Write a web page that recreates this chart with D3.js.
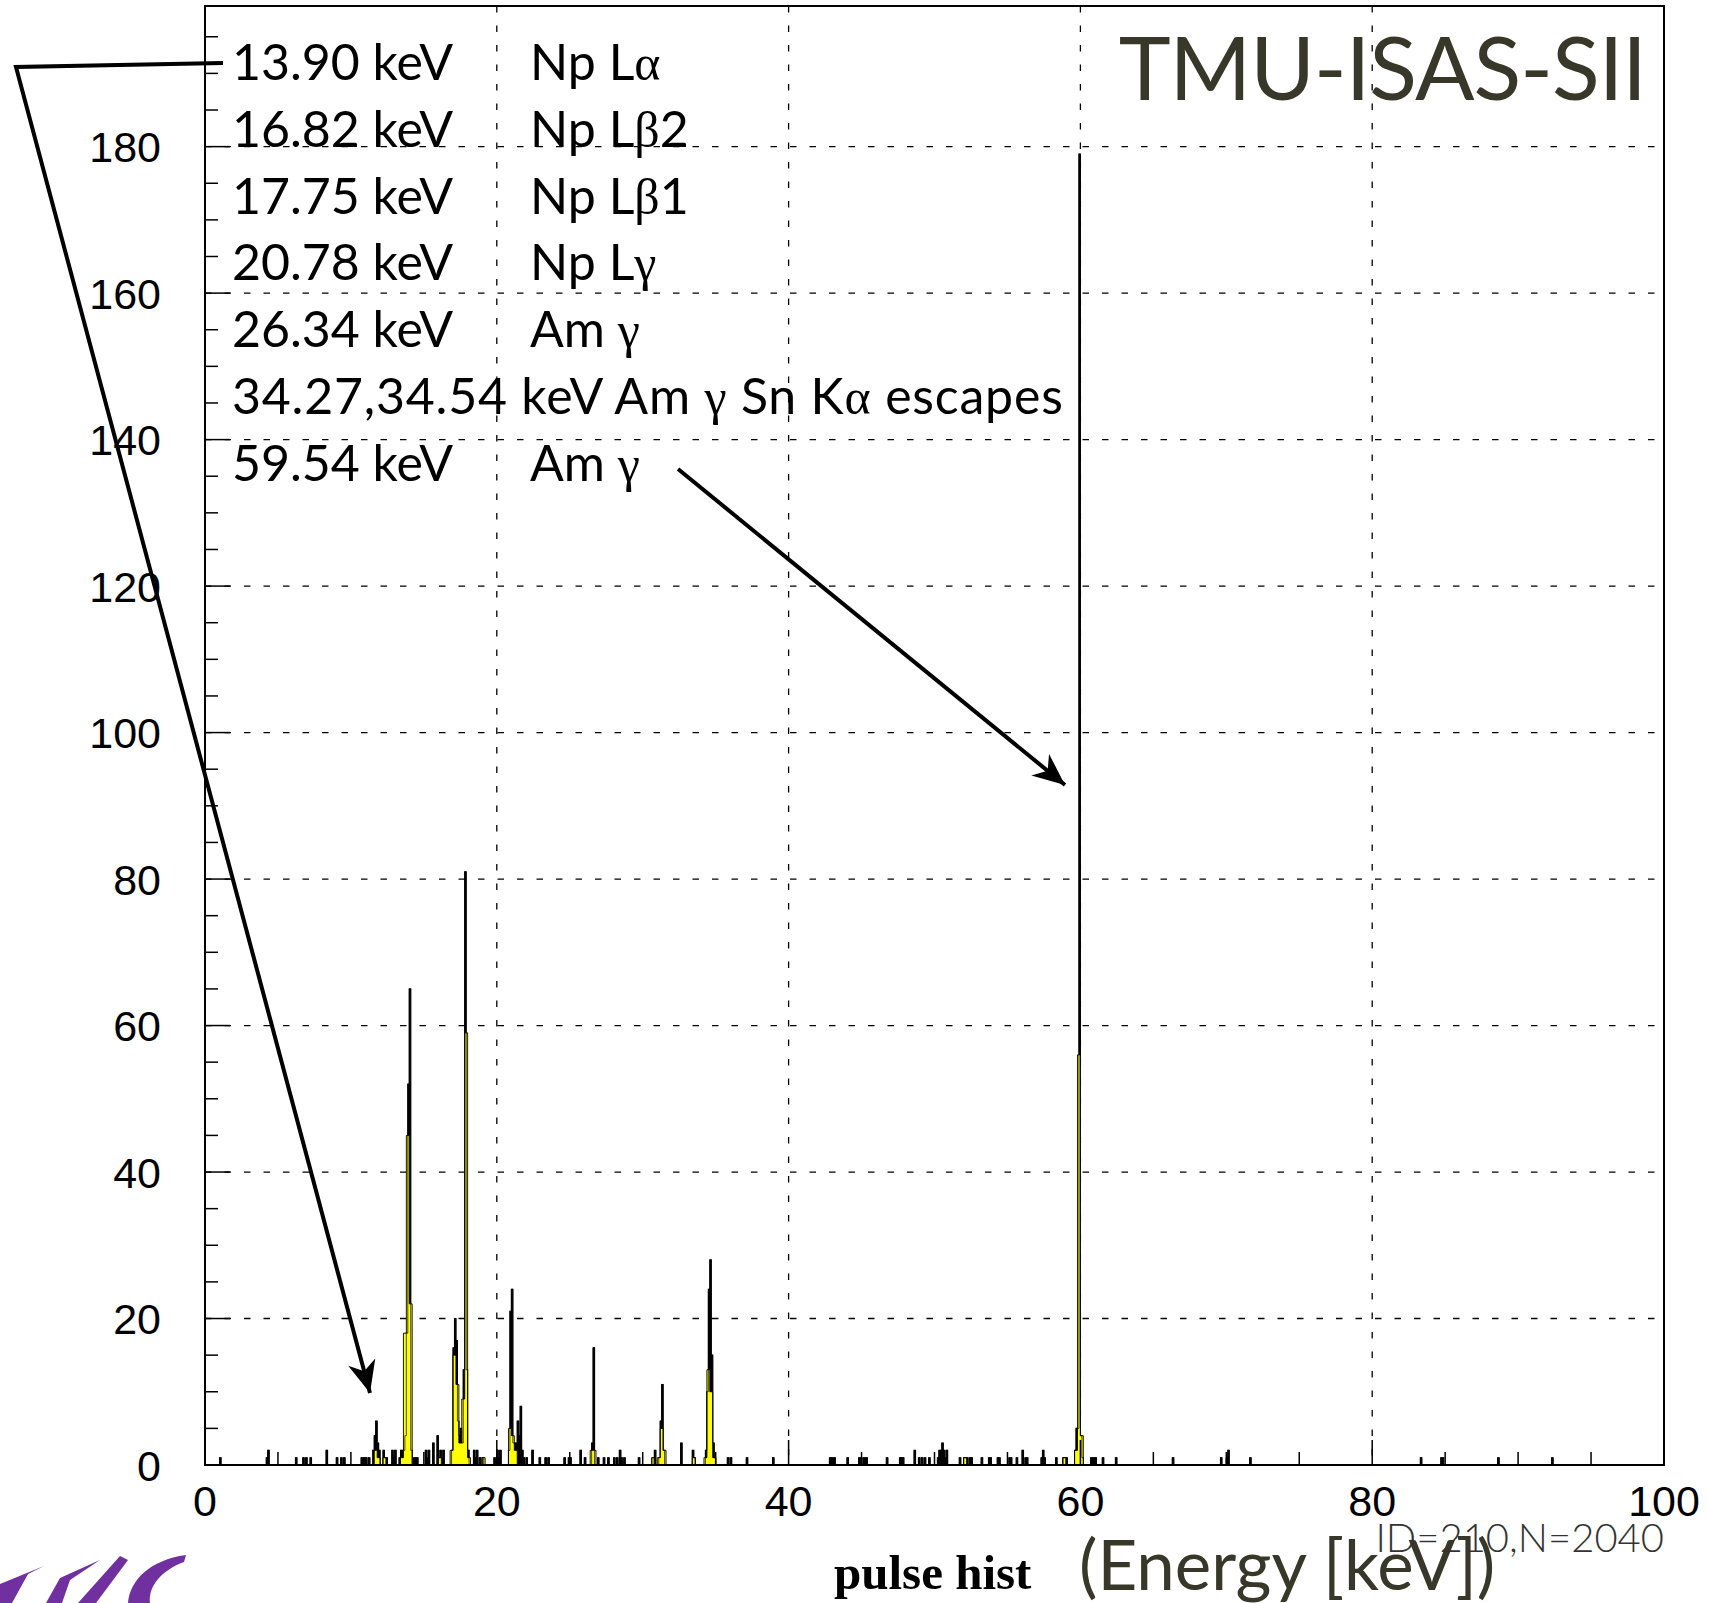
<!DOCTYPE html>
<html><head><meta charset="utf-8">
<script src="https://cdn.jsdelivr.net/npm/d3@7"></script>
<style>body{margin:0;background:#fff}svg{display:block}</style>
</head><body>
<script>
// ---------------- data ----------------
const blackBinWidth = 0.1;  // keV
const yellowBinWidth = 0.2; // keV
const blackBinLow = [1.0,4.2,4.3,6.2,6.7,6.9,7.2,8.3,9.0,9.3,9.5,10.7,10.8,10.9,11.0,11.2,11.5,11.6,11.7,11.8,11.9,12.2,12.3,12.4,12.8,12.9,13.0,13.3,13.4,13.5,13.6,13.7,13.8,13.9,14.0,14.1,14.3,14.4,14.5,15.1,15.2,15.3,15.6,15.9,16.0,16.1,16.2,16.3,16.9,17.0,17.1,17.2,17.3,17.4,17.5,17.6,17.7,17.8,17.9,18.0,18.4,18.5,18.6,18.8,19.0,19.8,20.0,20.1,20.2,20.8,20.9,21.0,21.1,21.2,21.3,21.4,21.5,21.6,21.7,21.8,22.0,22.4,22.9,23.3,23.5,24.6,24.9,25.0,25.7,26.0,26.5,26.6,26.9,27.3,27.6,28.0,28.2,28.4,28.5,28.7,29.7,30.7,30.8,31.1,31.2,31.3,31.4,32.6,33.4,33.5,34.3,34.4,34.5,34.6,34.7,34.8,34.9,35.8,36.0,37.1,38.9,42.8,42.9,43.0,43.1,44.0,44.8,44.9,45.1,45.2,45.3,46.7,47.6,47.7,47.8,48.6,48.9,49.1,49.3,49.6,50.2,50.3,50.4,50.5,50.6,50.7,50.8,51.7,52.0,52.1,52.2,52.4,52.5,53.2,53.7,53.8,54.3,54.4,55.1,55.2,55.6,56.0,56.2,56.3,57.3,57.4,57.5,58.3,58.8,58.9,59.0,59.6,59.7,59.8,59.9,60.0,60.1,60.7,60.8,60.9,61.0,61.5,62.4,66.3,69.6,70.0,70.1,71.6,83.3,84.7,84.8,88.6,92.3];
const blackCounts = [1,1,2,1,1,1,1,2,1,1,1,1,1,1,1,1,2,4,6,3,2,2,1,1,2,1,2,1,2,2,2,4,18,52,65,2,1,1,1,2,1,2,3,4,1,2,1,2,2,16,20,17,6,4,5,3,13,81,13,2,2,1,2,1,1,1,2,1,2,2,21,24,3,3,3,6,4,8,2,1,1,2,1,1,1,1,1,1,2,1,3,16,1,1,1,1,1,2,1,1,1,1,2,1,6,11,2,3,2,1,2,10,24,28,15,3,1,1,1,1,1,1,1,1,1,1,1,1,1,1,1,1,1,1,1,2,1,1,1,1,1,2,2,3,2,1,2,1,1,1,1,1,1,1,1,1,1,1,1,1,1,2,1,1,1,2,1,1,1,1,1,2,5,5,179,4,1,1,1,1,1,1,1,1,1,1,2,1,1,1,1,1,1];
const yellowBinLow = [11.6,11.8,12.2,13.4,13.6,13.8,14.0,16.0,16.8,17.0,17.2,17.4,17.6,17.8,18.0,19.0,20.8,21.0,21.2,26.4,26.6,30.6,31.0,31.2,31.4,33.4,34.2,34.4,34.6,34.8,52.0,58.8,59.6,59.8,60.0];
const yellowCounts = [2,1,1,1,18,45,22,1,2,15,11,3,9,59,1,1,5,4,2,2,2,1,1,5,2,1,1,13,10,1,1,1,2,56,4];

const xDomain = [0, 100];
const yDomain = [0, 199.2];
const xMajorTicks = [0, 20, 40, 60, 80, 100];
const yMajorTicks = [0, 20, 40, 60, 80, 100, 120, 140, 160, 180];
const minorStep = 5;

const lineEnergyLabels = ["13.90 keV", "16.82 keV", "17.75 keV", "20.78 keV", "26.34 keV", "34.27,34.54 keV Am γ Sn Kα escapes", "59.54 keV"];
const lineNameLabels = ["Np Lα", "Np Lβ2", "Np Lβ1", "Np Lγ", "Am γ", "", "Am γ"];
const titleText = "TMU-ISAS-SII";
const histName = "pulse hist";
const axisTitle = "(Energy [keV])";
const statText = "ID=210,N=2040";

// ---------------- layout ----------------
const W = 1709, H = 1603;
const L = 205, R = 1664, T = 6, B = 1465;
const svg = d3.select("body").append("svg").attr("width", W).attr("height", H);
const x = d3.scaleLinear().domain(xDomain).range([L, R]);
const y = d3.scaleLinear().domain(yDomain).range([B, T]);

function fullHist(lows, counts, bw) {
  const n = Math.round((xDomain[1] - xDomain[0]) / bw);
  const arr = new Array(n).fill(0);
  lows.forEach((e, i) => { arr[Math.round(e / bw)] = counts[i]; });
  const pts = arr.map((c, i) => ({e: i * bw, c}));
  pts.push({e: xDomain[1], c: 0});
  return pts;
}

svg.append("defs").append("clipPath").attr("id", "pc")
  .append("rect").attr("x", L).attr("y", T).attr("width", R - L).attr("height", B - T);

// grid
const gGrid = svg.append("g").attr("stroke", "#000").attr("stroke-width", 1.3)
  .attr("stroke-dasharray", "6.5,13");
xMajorTicks.filter(v => v > xDomain[0] && v < xDomain[1]).forEach(v => {
  gGrid.append("line").attr("x1", x(v)).attr("x2", x(v)).attr("y1", T).attr("y2", B);
});
yMajorTicks.filter(v => v > 0).forEach(v => {
  gGrid.append("line").attr("x1", L).attr("x2", R).attr("y1", y(v)).attr("y2", y(v));
});

// histograms
const area = d3.area().curve(d3.curveStepAfter).x(d => x(d.e)).y0(y(0)).y1(d => y(d.c));
const gH = svg.append("g").attr("clip-path", "url(#pc)");
gH.append("path").datum(fullHist(blackBinLow, blackCounts, blackBinWidth)).attr("d", area)
  .attr("fill", "#000").attr("stroke", "#000").attr("stroke-width", 1.1);
gH.append("path").datum(fullHist(yellowBinLow, yellowCounts, yellowBinWidth)).attr("d", area)
  .attr("fill", "#ffff00").attr("stroke", "#000").attr("stroke-width", 0.9);
// black peaks re-stroked on top so the tall lines stay visible through the yellow
gH.append("path").datum(fullHist(blackBinLow, blackCounts, blackBinWidth)).attr("d", area)
  .attr("fill", "none").attr("stroke", "#000").attr("stroke-width", 0.7);

// frame
svg.append("rect").attr("x", L).attr("y", T).attr("width", R - L).attr("height", B - T)
  .attr("fill", "none").attr("stroke", "#000").attr("stroke-width", 2);

// ticks
const gT = svg.append("g").attr("stroke", "#000").attr("stroke-width", 1.5);
d3.range(0, yDomain[1], minorStep).forEach(v => {
  const major = yMajorTicks.includes(v);
  gT.append("line").attr("x1", L).attr("x2", L + (major ? 25 : 13)).attr("y1", y(v)).attr("y2", y(v));
});
d3.range(0, xDomain[1] + 0.001, minorStep).forEach(v => {
  const major = xMajorTicks.includes(v);
  gT.append("line").attr("x1", x(v)).attr("x2", x(v)).attr("y1", B).attr("y2", B - (major ? 25 : 13));
});

// tick labels
svg.append("g").selectAll("text").data(yMajorTicks).join("text")
  .attr("x", 161).attr("y", d => y(d) + 15.5).attr("text-anchor", "end")
  .attr("font-family", "'Liberation Sans', Arial, sans-serif").attr("font-size", 43)
  .text(d => d);
svg.append("g").selectAll("text").data(xMajorTicks).join("text")
  .attr("x", d => x(d)).attr("y", 1516).attr("text-anchor", "middle")
  .attr("font-family", "'Liberation Sans', Arial, sans-serif").attr("font-size", 43)
  .text(d => d);

// rich text helper (Greek letters in serif)
function rich(sel, str) {
  const parts = str.split(/([α-ωΑ-Ω])/);
  parts.forEach(p => {
    if (!p) return;
    const t = sel.append("tspan").text(p);
    if (/[α-ωΑ-Ω]/.test(p)) t.attr("font-family", "'Liberation Serif', serif");
  });
}

// annotation lines
const gA = svg.append("g").attr("font-family", "Lato, 'Open Sans', sans-serif").attr("font-size", 50).attr("fill", "#000");
lineEnergyLabels.forEach((s, i) => {
  const by = 80 + 66.8 * i;
  const t = gA.append("text").attr("x", 232).attr("y", by);
  if (!lineNameLabels[i]) t.attr("letter-spacing", 0.8);
  rich(t, s);
  if (lineNameLabels[i]) rich(gA.append("text").attr("x", 530).attr("y", by), lineNameLabels[i]);
});

// title
svg.append("text").attr("x", 1646).attr("y", 100).attr("text-anchor", "end")
  .attr("font-family", "Lato, sans-serif").attr("font-size", 88).attr("letter-spacing", -1).attr("fill", "#38382a")
  .text(titleText);

// axis labels
svg.append("text").attr("x", 834).attr("y", 1589)
  .attr("font-family", "'Liberation Serif', 'Times New Roman', serif").attr("font-weight", "bold").attr("font-size", 49)
  .text(histName);
svg.append("text").attr("x", 1079).attr("y", 1590)
  .attr("font-family", "Lato, sans-serif").attr("font-size", 69).attr("fill", "#38382a")
  .text(axisTitle);
svg.append("text").attr("x", 1664).attr("y", 1552).attr("text-anchor", "end")
  .attr("font-family", "Lato, sans-serif").attr("font-weight", 300).attr("font-size", 40).attr("fill", "#333")
  .text(statText);

// arrows
function arrow(points, headLen, headHalf) {
  const g = svg.append("g");
  g.append("path").attr("d", d3.line()(points)).attr("fill", "none").attr("stroke", "#000")
    .attr("stroke-width", 4).attr("stroke-linejoin", "miter");
  const [tx, ty] = points[points.length - 1], [fx, fy] = points[points.length - 2];
  const dx = tx - fx, dy = ty - fy, len = Math.hypot(dx, dy), ux = dx / len, uy = dy / len;
  const bx = tx - ux * headLen, by = ty - uy * headLen;
  g.append("path").attr("d", d3.line()([[tx, ty], [bx - uy * headHalf, by + ux * headHalf], [tx - ux * headLen * 0.7, ty - uy * headLen * 0.7], [bx + uy * headHalf, by - ux * headHalf]]) + "Z")
    .attr("fill", "#000");
}
arrow([[223, 63], [16, 67], [370, 1393]], 32, 14);
arrow([[678, 469], [1065, 785]], 32, 14);

// logo fragments (bottom-left)
const gL = svg.append("g").attr("fill", "#7030a0");
gL.append("path").attr("d", "M0,1584 L44,1566 L28,1574 L12,1603 L0,1603 Z");
gL.append("path").attr("d", "M46,1603 L60,1578 L100,1560 L70,1580 L62,1603 Z");
gL.append("path").attr("d", "M78,1603 L120,1556 L128,1560 L96,1603 Z");
gL.append("path").attr("d", "M128,1603 C130,1580 150,1560 186,1555 L184,1562 C162,1570 148,1586 150,1603 Z");
</script>
</body></html>
